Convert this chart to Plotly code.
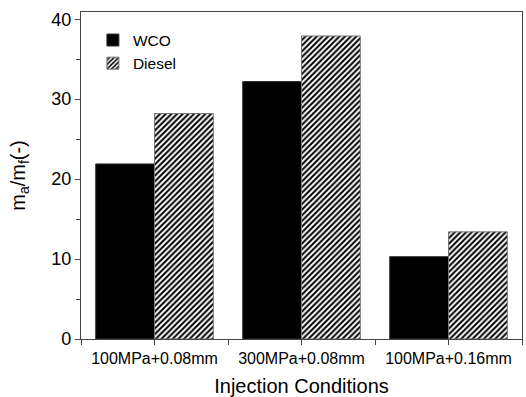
import plotly.graph_objects as go

# Injection conditions and air/fuel mass ratio per fuel
conditions = ["100MPa+0.08mm", "300MPa+0.08mm", "100MPa+0.16mm"]
wco_ratio = [21.9, 32.2, 10.3]
diesel_ratio = [28.2, 37.9, 13.4]
positions = list(range(len(conditions)))

FONT = "Liberation Sans, Arial, sans-serif"

fig = go.Figure()
fig.add_trace(go.Bar(
    x=positions, y=wco_ratio, name="WCO",
    marker=dict(color="black", line=dict(color="#333333", width=1)),
))
fig.add_trace(go.Bar(
    x=positions, y=diesel_ratio, name="Diesel",
    marker=dict(
        color="white",
        line=dict(color="#777777", width=1),
        pattern=dict(shape="/", size=4, solidity=0.5,
                     fgcolor="black", bgcolor="white", fillmode="replace"),
    ),
))

axis_common = dict(
    showline=True, linecolor="#444444", linewidth=1.3, mirror=True,
    ticks="outside", ticklen=5, tickwidth=1.2, tickcolor="#444444",
    showgrid=False, zeroline=False,
)

fig.update_layout(
    width=526, height=397,
    margin=dict(l=81, r=4, t=12, b=58),
    paper_bgcolor="white", plot_bgcolor="white",
    barmode="group", bargap=0.2, bargroupgap=0,
    font=dict(family=FONT, color="black"),
    showlegend=True,
    legend=dict(
        x=0.027, y=0.965, xanchor="left", yanchor="top",
        bgcolor="rgba(0,0,0,0)", borderwidth=0,
        font=dict(size=15.5, family=FONT), tracegroupgap=0,
    ),
    xaxis=dict(
        **axis_common,
        range=[-0.5, 2.5],
        tickmode="array", tickvals=positions, ticktext=conditions,
        tickfont=dict(size=16, family=FONT),
        minor=dict(ticks="outside", ticklen=5, tickwidth=1.2,
                   tickcolor="#444444", tick0=0.5, dtick=1, showgrid=False),
        title=dict(text="Injection Conditions", font=dict(size=20, family=FONT),
                   standoff=12),
    ),
    yaxis=dict(
        **axis_common,
        range=[0, 40.9],
        tickmode="linear", tick0=0, dtick=10,
        tickfont=dict(size=18, family=FONT),
        minor=dict(ticks="outside", ticklen=4, tickwidth=1.2,
                   tickcolor="#444444", dtick=5, showgrid=False),
        title=dict(text="m<sub>a</sub>/m<sub>f</sub>(-)",
                   font=dict(size=20, family=FONT), standoff=20),
    ),
)

fig.write_html("out.html")
